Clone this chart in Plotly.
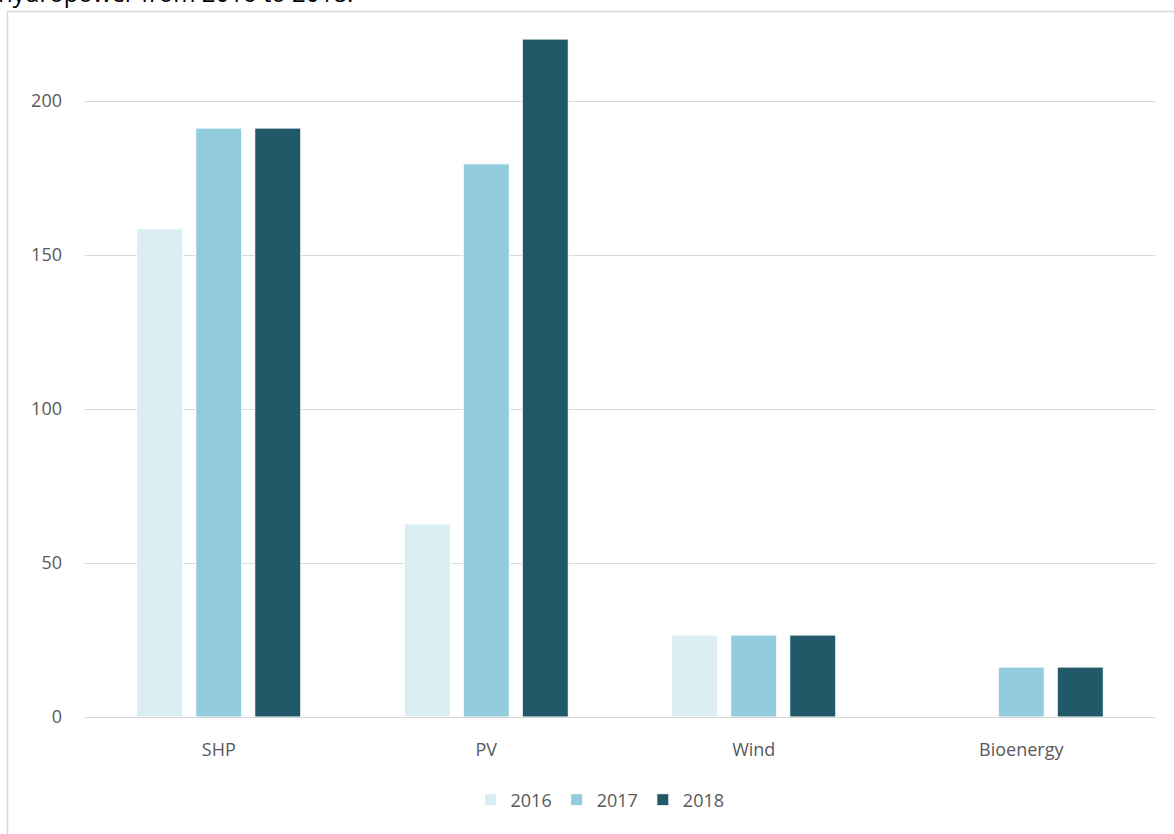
import plotly.graph_objects as go

# Installed capacity by technology, 2016-2018
categories = ["SHP", "PV", "Wind", "Bioenergy"]
years = ["2016", "2017", "2018"]
values_2016 = [158.5, 62.7, 26.6, None]
values_2017 = [191.2, 179.6, 26.6, 16.2]
values_2018 = [191.2, 220.1, 26.6, 16.2]
y_ticks = [0, 50, 100, 150, 200]

series = [values_2016, values_2017, values_2018]
colors = ["#DAEDF3", "#93CDDD", "#215968"]

W, H = 1174, 834
L, R, T, B = 85, 19, 11, 117
plot_w = W - L - R
plot_h = H - T - B
px_per_unit = 616 / 200.0
y_max = plot_h / px_per_unit

font_family = "Open Sans, Noto Sans, sans-serif"
text_color = "#595959"
grid_color = "#D9D9D9"

fig = go.Figure()
for name, vals, col in zip(years, series, colors):
    fig.add_trace(go.Bar(
        x=categories, y=vals, name=name,
        marker=dict(color=col, line=dict(color="white", width=1)),
    ))

def px_to_paper_x(px):
    return (px - L) / plot_w

def px_to_paper_y(py):
    return (H - B - py) / plot_h

# Outer chart border (extends past the visible page on the right and bottom)
fig.add_shape(
    type="rect", xref="paper", yref="paper",
    x0=px_to_paper_x(7.5), x1=px_to_paper_x(W + 20),
    y0=px_to_paper_y(H + 20), y1=px_to_paper_y(11.5),
    line=dict(color=grid_color, width=1.5), fillcolor="rgba(0,0,0,0)",
    layer="below",
)

# Title line partly above the visible area
fig.add_annotation(
    text="hydropower from 2016 to 2018.",
    xref="paper", yref="paper",
    x=px_to_paper_x(-4), y=px_to_paper_y(11),
    xanchor="left", yanchor="bottom", showarrow=False,
    font=dict(family=font_family, size=24, color="#000000"),
)

fig.update_layout(
    width=W, height=H,
    margin=dict(l=L, r=R, t=T, b=B, autoexpand=False),
    paper_bgcolor="white", plot_bgcolor="white",
    barmode="group", bargap=0.338, bargroupgap=0.22,
    font=dict(family=font_family, size=18, color=text_color),
    legend=dict(
        orientation="h", x=px_to_paper_x(600), xanchor="center",
        y=px_to_paper_y(800), yanchor="middle",
        font=dict(family=font_family, size=18, color=text_color),
        itemwidth=30, traceorder="normal",
    ),
    showlegend=True,
)
fig.update_xaxes(
    showgrid=False, showline=False, zeroline=False,
    ticks="", ticklabelstandoff=20,
    tickfont=dict(family=font_family, size=18, color=text_color),
)
fig.update_yaxes(
    range=[0, y_max], tickvals=y_ticks,
    showgrid=True, gridcolor=grid_color, gridwidth=1,
    zeroline=True, zerolinecolor=grid_color, zerolinewidth=1,
    showline=False, ticks="", ticklabelstandoff=22,
    tickfont=dict(family=font_family, size=18, color=text_color),
)

fig.write_html("out.html")
